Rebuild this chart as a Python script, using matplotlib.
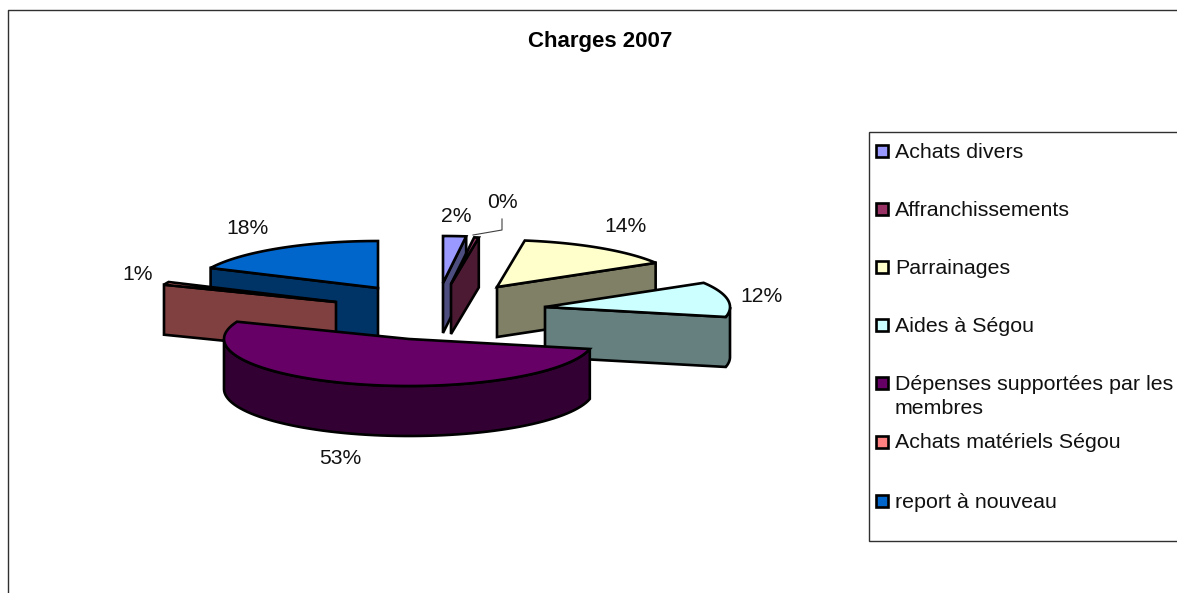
import numpy as np
import matplotlib
matplotlib.use('Agg')
import matplotlib.pyplot as plt
from matplotlib.patches import Polygon, Rectangle

plt.rcParams['font.family'] = ['Liberation Sans', 'DejaVu Sans']

# Data
names = ['Achats divers', 'Affranchissements', 'Parrainages', 'Aides à Ségou',
         'Dépenses supportées par les\nmembres', 'Achats matériels Ségou', 'report à nouveau']
values = [2.0, 0.4, 14.0, 12.0, 52.6, 1.0, 18.0]
colors = ['#9999FF', '#993366', '#FFFFCC', '#CCFFFF', '#660066', '#FF8080', '#0066CC']
sides = ['#4D4D80', '#4D1A33', '#808066', '#668080', '#330033', '#804040', '#003366']

# Layout, in pixels of the 1177x593 picture
W, H = 1177, 593
RX, RY, DEPTH = 185, 47, 50
apex = [(443, 283), (451, 284), (497, 287), (545, 307), (409, 339), (336, 302), (378, 288)]
label_pos = [(456, 216), (502, 202), (626, 227), (761, 296), (340, 458), (138, 275), (248, 228)]
legend_y = [152, 210, 268, 326, 396.5, 443, 502]
swatch_y = [151, 209, 267, 325, 383, 442, 501]
draw_order = [0, 1, 2, 6, 3, 5, 4]

fig = plt.figure(figsize=(W / 100, H / 100), dpi=100)
ax = fig.add_axes([0, 0, 1, 1])
ax.set_xlim(0, W)
ax.set_ylim(H, 0)
ax.axis('off')

# Chart frame (right and bottom fall outside the picture)
ax.plot([8, 8, W], [H, 10, 10], color='#303030', lw=1)
ax.text(600, 42, 'Charges 2007', ha='center', va='center', fontsize=16, fontweight='bold')

# Slice angles, clockwise from 12 o'clock
ends = np.cumsum(values) / np.sum(values) * 2 * np.pi
starts = np.concatenate([[0], ends[:-1]])


def draw_slice(i):
    t = np.linspace(starts[i], ends[i], 80)
    cx, cy = apex[i]
    xs = np.concatenate([[cx], cx + RX * np.sin(t), [cx]])
    ys = np.concatenate([[cy], cy - RY * np.cos(t), [cy]])
    # Walls: a boundary segment walked leftwards faces the viewer
    j = 0
    while j < len(xs) - 1:
        if xs[j + 1] - xs[j] < -1e-9:
            k = j
            while k < len(xs) - 1 and xs[k + 1] - xs[k] < -1e-9:
                k += 1
            wx = xs[j:k + 1]
            wy = ys[j:k + 1]
            pts = np.column_stack([np.concatenate([wx, wx[::-1]]),
                                   np.concatenate([wy, wy[::-1] + DEPTH])])
            ax.add_patch(Polygon(pts, closed=True, fc=sides[i], ec='black', lw=1.9, joinstyle='miter'))
            j = k
        else:
            j += 1
    ax.add_patch(Polygon(np.column_stack([xs[:-1], ys[:-1]]), closed=True,
                         fc=colors[i], ec='black', lw=1.9, joinstyle='miter'))


for i in draw_order:
    draw_slice(i)

# Percentage labels
for i, (x, y) in enumerate(label_pos):
    ax.text(x, y, f'{round(values[i] / sum(values) * 100)}%', ha='center', va='center',
            fontsize=15.2, color='#111111')

# Leader line of the 0% label
ax.plot([473, 502, 502], [235, 230, 219], color='#404040', lw=0.8)

# Legend
ax.add_patch(Rectangle((869, 132), W, 409, fc='white', ec='#303030', lw=1))
for i, y in enumerate(legend_y):
    ax.add_patch(Rectangle((876, swatch_y[i] - 6), 12, 12, fc=colors[i], ec='black', lw=1.9))
    ax.text(895, y, names[i], ha='left', va='center', fontsize=15.4, linespacing=1.33, color='#111111')

fig.savefig('out.png', dpi=100)
